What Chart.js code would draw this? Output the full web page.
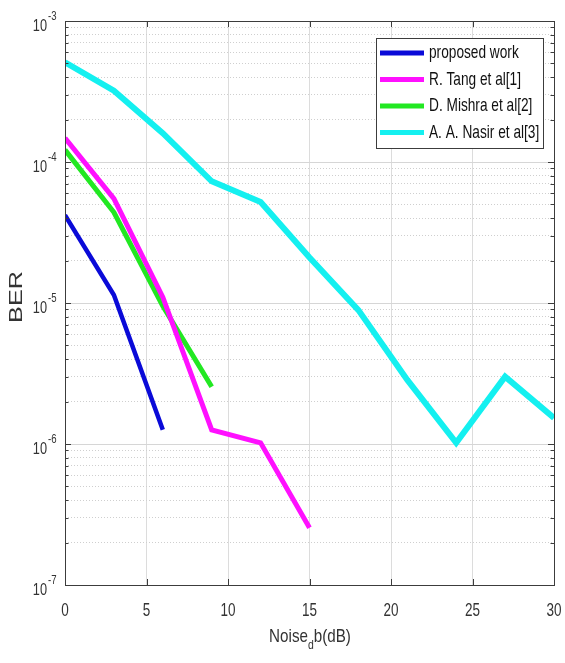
<!DOCTYPE html>
<html>
<head>
<meta charset="utf-8">
<script src="https://cdn.jsdelivr.net/npm/chart.js@4"></script>
<style>
  html, body { margin: 0; padding: 0; background: #fff; }
  canvas { display: block; }
</style>
</head>
<body>
<canvas id="chart" width="565" height="663"></canvas>
<script>
// BER vs noise
const SNR = [0, 3, 6, 9, 12, 15, 18, 21, 24, 27, 30];
const proposed = [4.2e-5, 1.14e-5, 1.26e-6];
const tang = [1.48e-4, 5.5e-5, 1.1e-5, 1.26e-6, 1.02e-6, 2.55e-7];
const mishra = [1.22e-4, 4.4e-5, 9.5e-6, 2.55e-6];
const nasir = [5.1e-4, 3.2e-4, 1.6e-4, 7.3e-5, 5.2e-5, 2.1e-5, 8.9e-6, 2.85e-6, 1.02e-6, 3.0e-6, 1.53e-6];

const SERIES_NAMES = ['proposed work', 'R. Tang et al[1]', 'D. Mishra et al[2]', 'A. A. Nasir et al[3]'];
const X_TICKS = [0, 5, 10, 15, 20, 25, 30];
const Y_DECADES = [-7, -6, -5, -4, -3];

const COLORS = ['#0a0ad8', '#ff10ff', '#22e822', '#14f0f0'];
const WIDTHS = [4.5, 5, 5, 6];

const FONT = '"Liberation Sans", Arial, sans-serif';
const TEXT = '#333';

function pts(vals){ return vals.map((v, i) => ({ x: SNR[i], y: v })); }

function isDecade(v){
  const l = Math.log10(v);
  return Math.abs(l - Math.round(l)) < 1e-6;
}

function yTickValues(){
  const out = [];
  Y_DECADES.forEach((e, k) => {
    const last = k === Y_DECADES.length - 1;
    for (let m = 1; m <= (last ? 1 : 9); m++) out.push(m * Math.pow(10, e));
  });
  return out;
}

function txt(ctx, s, x, y, size, sx, align){
  ctx.save();
  ctx.translate(x, y);
  ctx.scale(sx, 1);
  ctx.font = size + 'px ' + FONT;
  ctx.textAlign = align || 'center';
  ctx.textBaseline = 'middle';
  ctx.fillText(s, 0, 0);
  ctx.restore();
}

function txtWidth(ctx, s, size, sx){
  ctx.save();
  ctx.font = size + 'px ' + FONT;
  const w = ctx.measureText(s).width * sx;
  ctx.restore();
  return w;
}

// frame, inward ticks, labels and legend in the MATLAB look
const matlabDecor = {
  id: 'matlabDecor',
  afterDraw(chart){
    const ctx = chart.ctx;
    const a = chart.chartArea;
    const xs = chart.scales.x, ys = chart.scales.y;

    ctx.save();
    ctx.strokeStyle = '#3c3c3c';
    ctx.lineWidth = 1;
    ctx.beginPath();
    X_TICKS.forEach(v => {
      const px = Math.round(xs.getPixelForValue(v)) + 0.5;
      ctx.moveTo(px, a.bottom); ctx.lineTo(px, a.bottom - 6);
      ctx.moveTo(px, a.top); ctx.lineTo(px, a.top + 6);
    });
    yTickValues().forEach(v => {
      const py = Math.round(ys.getPixelForValue(v)) + 0.5;
      const len = isDecade(v) ? 6 : 3.5;
      ctx.moveTo(a.left, py); ctx.lineTo(a.left + len, py);
      ctx.moveTo(a.right, py); ctx.lineTo(a.right - len, py);
    });
    ctx.stroke();
    ctx.strokeRect(Math.round(a.left) + 0.5, Math.round(a.top) + 0.5,
      Math.round(a.right - a.left), Math.round(a.bottom - a.top));
    ctx.restore();

    ctx.save();
    ctx.fillStyle = TEXT;
    X_TICKS.forEach(v => txt(ctx, String(v), xs.getPixelForValue(v), a.bottom + 26, 18, 0.75));
    Y_DECADES.forEach(e => {
      const py = ys.getPixelForValue(Math.pow(10, e));
      txt(ctx, '10', a.left - 18, py + 5, 17, 0.75, 'right');
      txt(ctx, String(e), a.left - 17, py - 4, 12, 0.8, 'left');
    });

    // x title with subscript
    const main1 = 'Noise', sub = 'd', main2 = 'b(dB)';
    const w1 = txtWidth(ctx, main1, 19, 0.8), ws = txtWidth(ctx, sub, 13, 0.8), w2 = txtWidth(ctx, main2, 19, 0.8);
    let x0 = 310 - (w1 + ws + w2) / 2;
    txt(ctx, main1, x0, 637, 19, 0.8, 'left');
    txt(ctx, sub, x0 + w1, 645, 13, 0.8, 'left');
    txt(ctx, main2, x0 + w1 + ws, 637, 19, 0.8, 'left');

    // y title
    ctx.save();
    ctx.translate(17, 297);
    ctx.rotate(-Math.PI / 2);
    txt(ctx, 'BER', 0, 0, 18, 1.4);
    ctx.restore();
    ctx.restore();

    // legend box inside the axes
    const lx = 376, ly = 38, lw = 167, lh = 110;
    ctx.save();
    ctx.fillStyle = '#fff';
    ctx.fillRect(lx, ly, lw, lh);
    ctx.strokeStyle = '#3c3c3c';
    ctx.lineWidth = 1;
    ctx.strokeRect(lx + 0.5, ly + 0.5, lw, lh);
    chart.data.datasets.forEach((ds, i) => {
      const cy = ly + 15 + i * 26.5;
      ctx.strokeStyle = ds.borderColor;
      ctx.lineWidth = 5;
      ctx.beginPath();
      ctx.moveTo(lx + 4, cy); ctx.lineTo(lx + 48, cy);
      ctx.stroke();
      ctx.fillStyle = '#111';
      txt(ctx, ds.label, lx + 53, cy, 19, 0.72, 'left');
    });
    ctx.restore();
  }
};

const datasets = [proposed, tang, mishra, nasir].map((vals, i) => ({
  label: SERIES_NAMES[i],
  data: pts(vals),
  borderColor: COLORS[i],
  backgroundColor: COLORS[i],
  borderWidth: WIDTHS[i],
  pointRadius: 0,
  tension: 0,
  borderJoinStyle: 'miter',
  fill: false
}));

new Chart(document.getElementById('chart').getContext('2d'), {
  type: 'line',
  data: { datasets },
  options: {
    responsive: false,
    animation: false,
    events: [],
    layout: { padding: { left: 0, top: 21, right: 11, bottom: 0 } },
    plugins: { legend: { display: false }, tooltip: { enabled: false } },
    scales: {
      x: {
        type: 'linear',
        min: 0, max: 30,
        ticks: { display: false, stepSize: 5 },
        afterBuildTicks: s => { s.ticks = X_TICKS.map(v => ({ value: v })); },
        afterFit: s => { s.height = 78; },
        grid: { color: '#dcdcdc', lineWidth: 1, drawTicks: false },
        border: { display: false }
      },
      y: {
        type: 'logarithmic',
        min: 1e-7, max: 1e-3,
        ticks: { display: false },
        afterBuildTicks: s => { s.ticks = yTickValues().map(v => ({ value: v })); },
        afterFit: s => { s.width = 65; },
        grid: {
          drawTicks: false,
          lineWidth: 1,
          color: c => isDecade(c.tick.value) ? '#d6d6d6' : '#cfcfcf'
        },
        border: {
          display: false,
          dash: c => (c.tick && isDecade(c.tick.value)) ? [] : [1, 2]
        }
      }
    }
  },
  plugins: [matlabDecor]
});
</script>
</body>
</html>
